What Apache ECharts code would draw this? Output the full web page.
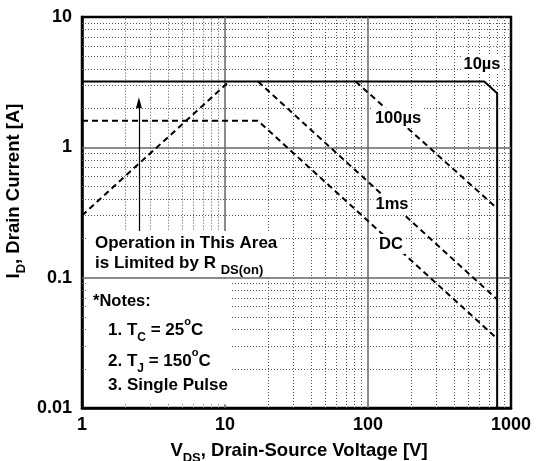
<!DOCTYPE html>
<html><head><meta charset="utf-8">
<script src="https://cdn.jsdelivr.net/npm/echarts@6/dist/echarts.min.js"></script>
<style>html,body{margin:0;padding:0;background:#fff}#c{width:536px;height:461px}</style>
</head><body><div id="c"></div>
<script>
// ---------- data ----------
const xTickValues = [1, 10, 100, 1000];
const yTickValues = [0.01, 0.1, 1, 10];
const minorMultipliers = [2, 3, 4, 5, 6, 7, 8, 9];
const xDecades = [1, 10, 100];
const yDecades = [0.01, 0.1, 1];

// curves [V, A]
const rdsLimit   = [[1, 0.3], [10.7, 3.2]];
const pulse10us  = [[1, 3.2], [650, 3.2], [800, 2.6], [800, 0.01]];
const pulse100us = [[82, 3.2], [800, 0.34]];
const pulse1ms   = [[17, 3.2], [800, 0.068]];
const dcLine     = [[1, 1.6], [17, 1.6], [800, 0.034]];
const arrowLine  = [[2.5, 0.222], [2.5, 2.1]];
const arrowTip   = [2.5, 2.2];

const curveLabels = ['10µs', '100µs', '1ms', 'DC'];
const noteLines = ['*Notes:', '1. T{sub|C} = 25{sup|o}C', '2. T{sub|J} = 150{sup|o}C', '3. Single Pulse'];
const areaLines = ['Operation in This Area', 'is Limited by R {sub|DS(on)}'];
const xTitle = 'V{sub|DS}, Drain-Source Voltage [V]';
const yTitle = 'I{sub|D}, Drain Current [A]';

// ---------- helpers ----------
const FONT = '"Liberation Sans", Arial, Helvetica, sans-serif';
const xMin = 1, xMax = 1000, yMin = 0.01, yMax = 10;
const boxRightX = 11.2, boxTopY = 0.1;   // notes box extent (data units)
const tickX = 1.066, tickY = 0.0107;     // inner tick length (data units)

function seg(a, b) { return [{coord: a}, {coord: b}]; }

const minorSegs = [], majorSegs = [];
xDecades.forEach(d => minorMultipliers.forEach(m => {
  const v = d * m;
  if (v < boxRightX) { minorSegs.push(seg([v, boxTopY], [v, yMax])); minorSegs.push(seg([v, yMin], [v, tickY])); }
  else minorSegs.push(seg([v, yMin], [v, yMax]));
}));
yDecades.forEach(d => minorMultipliers.forEach(m => {
  const v = d * m;
  if (v < boxTopY) { minorSegs.push(seg([boxRightX, v], [xMax, v])); minorSegs.push(seg([xMin, v], [tickX, v])); }
  else minorSegs.push(seg([xMin, v], [xMax, v]));
}));
xTickValues.slice(1, -1).forEach(v => {
  if (v < boxRightX) { majorSegs.push(seg([v, boxTopY], [v, yMax])); majorSegs.push(seg([v, yMin], [v, tickY])); }
  else majorSegs.push(seg([v, yMin], [v, yMax]));
});
yTickValues.slice(1, -1).forEach(v => majorSegs.push(seg([xMin, v], [xMax, v])));

function gridSeries(segs, style) {
  return { type: 'line', data: [], z: 1, silent: true,
    markLine: { silent: true, symbol: ['none', 'none'], label: {show: false}, animation: false,
      lineStyle: style, data: segs } };
}
function curve(data, dashed) {
  return { type: 'line', data: data, z: 5, symbol: 'none', silent: true,
    lineStyle: { color: '#000', width: 2, type: dashed ? [6, 4] : 'solid' } };
}
const fmt = v => String(parseFloat(Number(v).toPrecision(6)));

const richSub = (size) => ({
  sub: { font: 'bold ' + size + 'px ' + FONT, fill: '#000', verticalAlign: 'bottom', lineHeight: 16 },
  sup: { font: 'bold 11px ' + FONT, fill: '#000', verticalAlign: 'top' }
});
function txt(x, y, text, size, opts) {
  return { type: 'text', x: x, y: y, z: 100, silent: true,
    style: Object.assign({ text: text, font: 'bold ' + size + 'px ' + FONT, fill: '#000',
      align: 'left', verticalAlign: 'middle', lineHeight: 28, rich: richSub(12) }, opts || {}) };
}

const labelStyle = { align: 'center', backgroundColor: '#fff', padding: [1, 2], lineHeight: 18 };
const graphics = [
  { type: 'rect', z: 99, silent: true, shape: { x: 86, y: 231, width: 193, height: 46 }, style: { fill: '#fff' } },
  txt(482, 64, curveLabels[0], 16.5, labelStyle),
  txt(398, 118, curveLabels[1], 16.5, labelStyle),
  txt(392, 204, curveLabels[2], 16.5, labelStyle),
  txt(391, 244, curveLabels[3], 16.5, labelStyle),
  txt(95, 243, areaLines[0], 17, { lineHeight: 20 }),
  txt(95, 263, areaLines[1], 17, { rich: richSub(13) }),
  txt(93, 301, noteLines[0], 16.5, { lineHeight: 20 }),
  txt(108, 330, noteLines[1], 17),
  txt(108, 361, noteLines[2], 17),
  txt(108, 385, noteLines[3], 17, { lineHeight: 20 }),
  txt(299, 451, xTitle, 18.5, { align: 'center', rich: richSub(13) }),
  Object.assign(txt(0, 0, yTitle, 18.5, { align: 'center', rich: richSub(13) }), { x: 14, y: 191, rotation: Math.PI / 2 })
];

const axisLabelStyle = { color: '#000', fontFamily: FONT, fontWeight: 'bold', fontSize: 18, formatter: fmt };
const option = {
  animation: false,
  backgroundColor: '#fff',
  grid: { left: 82, right: 25, top: 17, bottom: 53, show: true, borderColor: '#000', borderWidth: 2.5, backgroundColor: 'transparent' },
  xAxis: { type: 'log', logBase: 10, min: xMin, max: xMax,
    axisLine: { show: true, lineStyle: { color: '#000', width: 2.5 } },
    axisTick: { show: false }, splitLine: { show: false }, minorTick: {show: false}, minorSplitLine: {show: false},
    axisLabel: Object.assign({ margin: 8 }, axisLabelStyle) },
  yAxis: { type: 'log', logBase: 10, min: yMin, max: yMax,
    axisLine: { show: true, lineStyle: { color: '#000', width: 2.5 } },
    axisTick: { show: false }, splitLine: { show: false }, minorTick: {show: false}, minorSplitLine: {show: false},
    axisLabel: Object.assign({ margin: 10 }, axisLabelStyle) },
  series: [
    gridSeries(minorSegs, { color: '#555', width: 1, type: [1, 2] }),
    gridSeries(majorSegs, { color: '#666', width: 1.5, type: 'solid' }),
    curve(pulse10us, false),
    curve(rdsLimit, true),
    curve(pulse100us, true),
    curve(pulse1ms, true),
    curve(dcLine, true),
    { type: 'line', data: [], z: 5, silent: true,
      markLine: { silent: true, symbol: ['none', 'none'], label: {show: false}, animation: false,
        lineStyle: { color: '#000', width: 1.2, type: 'solid' }, data: [seg(arrowLine[0], arrowLine[1])] },
      markPoint: { silent: true, symbol: 'triangle', symbolSize: [6, 11], label: {show: false}, animation: false,
        itemStyle: { color: '#000' }, data: [{ coord: arrowTip }] } }
  ],
  graphic: graphics
};
const chart = echarts.init(document.getElementById('c'), null, { renderer: 'canvas' });
chart.setOption(option);
</script></body></html>
